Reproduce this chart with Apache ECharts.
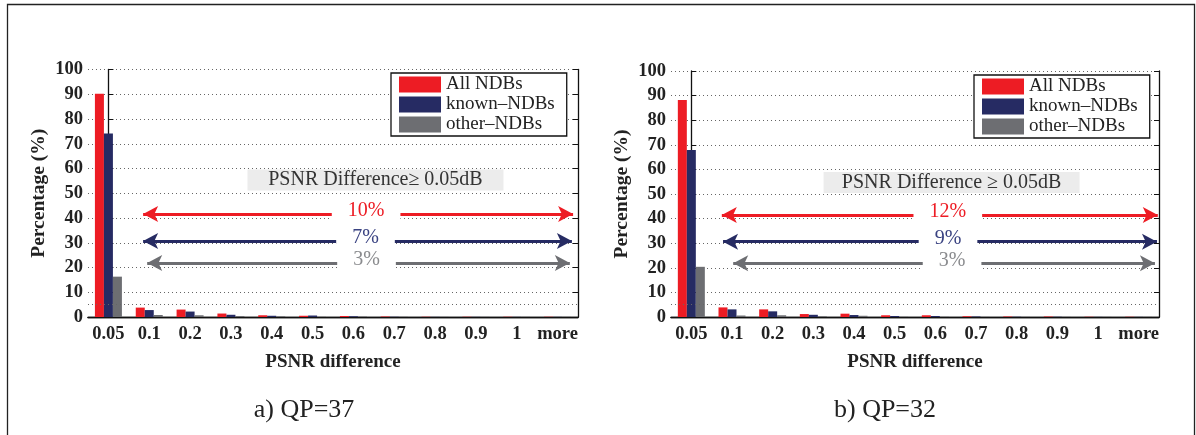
<!DOCTYPE html>
<html>
<head>
<meta charset="utf-8">
<script src="https://cdn.jsdelivr.net/npm/echarts@6/dist/echarts.min.js"></script>
<style>
  html, body { margin: 0; padding: 0; background: #fff; }
  #psnrCharts { width: 1196px; height: 435px; }
</style>
</head>
<body>
<div id="psnrCharts"></div>
<script>
// x categories (PSNR difference bins)
var categories = ["0.05", "0.1", "0.2", "0.3", "0.4", "0.5", "0.6", "0.7", "0.8", "0.9", "1", "more"];
var seriesNames = ["All NDBs", "known\u2013NDBs", "other\u2013NDBs"];

// a) QP=37
var allQP37 = [90.2, 3.8, 3.0, 1.4, 0.7, 0.5, 0.4, 0.2, 0.1, 0.1, 0.1, 0.1];
var knownQP37 = [74.1, 2.8, 2.2, 0.9, 0.5, 0.6, 0.3, 0.1, 0.05, 0.05, 0.05, 0.05];
var otherQP37 = [16.3, 0.8, 0.7, 0.4, 0.3, 0.1, 0.2, 0.1, 0.05, 0.05, 0.05, 0.05];
var arrowLabelsQP37 = ["10%", "7%", "3%"];

// b) QP=32
var allQP32 = [88.2, 3.9, 3.1, 1.2, 1.35, 0.7, 0.7, 0.3, 0.2, 0.2, 0.1, 0.1];
var knownQP32 = [67.9, 3.1, 2.3, 0.9, 0.8, 0.4, 0.4, 0.2, 0.1, 0.1, 0.05, 0.05];
var otherQP32 = [20.4, 0.6, 0.7, 0.3, 0.5, 0.1, 0.1, 0.05, 0.05, 0.05, 0.05, 0.05];
var arrowLabelsQP32 = ["12%", "9%", "3%"];

var yTicks = [0, 100, 10]; // min, max, interval

var serif = "'Liberation Serif', 'Times New Roman', serif";
var colors = ["#ed1c24", "#262b63", "#6d6e72"];
var labelColors = ["#ed1c24", "#3a4382", "#8a8b8e"];

var panels = [
  {
    grid: { left: 88, top: 69.5, width: 490, height: 247.5 },
    legend: { left: 391, top: 73 },
    data: [allQP37, knownQP37, otherQP37],
    labels: arrowLabelsQP37,
    note: "PSNR Difference\u2265 0.05dB",
    noteAt: [6.54, 55.4],
    arrows: [[0.85, 11.38, 41.6], [0.85, 11.35, 30.7], [0.95, 11.3, 21.8]],
  },
  {
    grid: { left: 671, top: 71, width: 488, height: 246 },
    legend: { left: 974, top: 75 },
    data: [allQP32, knownQP32, otherQP32],
    labels: arrowLabelsQP32,
    note: "PSNR Difference \u2265 0.05dB",
    noteAt: [6.4, 54.7],
    arrows: [[0.75, 11.47, 41.5], [0.78, 11.45, 30.6], [1.03, 11.4, 21.8]],
  },
];

var option = {
  animation: false,
  backgroundColor: "#fff",
  grid: [],
  xAxis: [],
  yAxis: [],
  legend: [],
  series: [],
  graphic: [
    {
      type: "rect",
      shape: { x: 7.5, y: 4.5, width: 1187, height: 450 },
      style: { fill: "none", stroke: "#222", lineWidth: 1.3 },
      silent: true,
    },
    {
      type: "text",
      x: 304, y: 410,
      style: { text: "a) QP=37", font: "26px " + serif, fill: "#222", textAlign: "center", textVerticalAlign: "middle" },
    },
    {
      type: "text",
      x: 885, y: 410,
      style: { text: "b) QP=32", font: "26px " + serif, fill: "#222", textAlign: "center", textVerticalAlign: "middle" },
    },
  ],
};

panels.forEach(function (p, k) {
  option.grid.push(p.grid);
  var xb = k * 3;
  var yb = k * 2;
  // bottom category axis
  option.xAxis.push({
    type: "category",
    gridIndex: k,
    data: categories,
    position: "bottom",
    name: "PSNR difference",
    nameLocation: "middle",
    nameGap: 36,
    nameTextStyle: { fontFamily: serif, fontWeight: "bold", fontSize: 19, color: "#222" },
    axisLine: { lineStyle: { color: "#111", width: 1.3 } },
    axisTick: { inside: true, alignWithLabel: true, length: 5, lineStyle: { color: "#111" } },
    axisLabel: { fontFamily: serif, fontWeight: "bold", fontSize: 18.5, color: "#222", margin: 8, interval: 0 },
  });
  // top box line
  option.xAxis.push({
    type: "category",
    gridIndex: k,
    data: categories,
    position: "top",
    axisLine: { lineStyle: { color: "#111", width: 1.3 } },
    axisTick: { inside: true, alignWithLabel: true, length: 5, lineStyle: { color: "#111" } },
    axisLabel: { show: false },
  });
  // hidden value axis for annotations
  option.xAxis.push({
    type: "value",
    gridIndex: k,
    min: -0.5,
    max: 11.5,
    show: false,
  });
  option.yAxis.push({
    type: "value",
    gridIndex: k,
    min: yTicks[0],
    max: yTicks[1],
    interval: yTicks[2],
    name: "Percentage (%)",
    nameLocation: "middle",
    nameGap: 39,
    nameTextStyle: { fontFamily: serif, fontWeight: "bold", fontSize: 19.5, color: "#222" },
    axisLine: { show: true, lineStyle: { color: "#111", width: 1.3 } },
    axisTick: { show: true, inside: true, length: 5, lineStyle: { color: "#111" } },
    axisLabel: { fontFamily: serif, fontWeight: "bold", fontSize: 18.5, color: "#222", margin: 5 },
    splitLine: {
      show: true,
      lineStyle: { color: "#666", type: [1, 3], width: 1 },
    },
  });
  option.yAxis.push({
    type: "value",
    gridIndex: k,
    position: "right",
    min: yTicks[0],
    max: yTicks[1],
    interval: yTicks[2],
    axisLine: { show: true, lineStyle: { color: "#111", width: 1.3 } },
    axisTick: { show: true, inside: true, length: 5, lineStyle: { color: "#111" } },
    axisLabel: { show: false },
    splitLine: { show: false },
  });

  option.legend.push({
    left: p.legend.left,
    top: p.legend.top,
    orient: "vertical",
    icon: "rect",
    itemWidth: 42,
    itemHeight: 16,
    itemGap: 1,
    padding: [2, 12, 2, 8],
    borderColor: "#111",
    borderWidth: 1.3,
    borderRadius: 0,
    backgroundColor: "#fff",
    textStyle: { fontFamily: serif, fontSize: 19, color: "#222" },
    data: seriesNames,
  });

  seriesNames.forEach(function (name, i) {
    option.series.push({
      name: name,
      type: "bar",
      xAxisIndex: xb,
      yAxisIndex: yb,
      barWidth: 9,
      barGap: "0%",
      itemStyle: { color: colors[i] },
      data: p.data[i],
    });
  });

  // 5% dotted line + grey note box
  option.series.push({
    name: "",
    type: "line",
    xAxisIndex: xb + 2,
    yAxisIndex: yb,
    data: [],
    silent: true,
    markLine: {
      silent: true,
      symbol: ["none", "none"],
      label: { show: false },
      lineStyle: { color: "#666", type: [1, 3], width: 1 },
      data: [{ yAxis: 5 }],
    },
    markPoint: {
      silent: true,
      symbol: "rect",
      symbolSize: [256, 21],
      itemStyle: { color: "#ececec" },
      label: {
        show: true,
        position: "inside",
        formatter: p.note,
        fontFamily: serif,
        fontSize: 20,
        color: "#333",
      },
      data: [{ coord: p.noteAt }],
    },
  });

  // arrows with percentage labels
  option.series.push({
    name: "",
    type: "line",
    xAxisIndex: xb + 2,
    yAxisIndex: yb,
    data: [],
    silent: true,
    markLine: {
      silent: true,
      symbol: ["arrow", "arrow"],
      symbolSize: [12, 15],
      data: p.arrows.map(function (a, i) {
        return [
          {
            coord: [a[0], a[2]],
            lineStyle: { color: colors[i], width: 3, type: "solid" },
            itemStyle: { color: colors[i] },
            label: {
              show: true,
              position: "middle",
              distance: 0,
              verticalAlign: "middle",
              offset: [8, -3],
              formatter: p.labels[i],
              fontFamily: serif,
              fontSize: 20,
              color: labelColors[i],
              backgroundColor: "#fff",
              padding: [3, 16],
            },
          },
          { coord: [a[1], a[2]] },
        ];
      }),
    },
  });
});

var chart = echarts.init(document.getElementById("psnrCharts"));
chart.setOption(option);
</script>
</body>
</html>
